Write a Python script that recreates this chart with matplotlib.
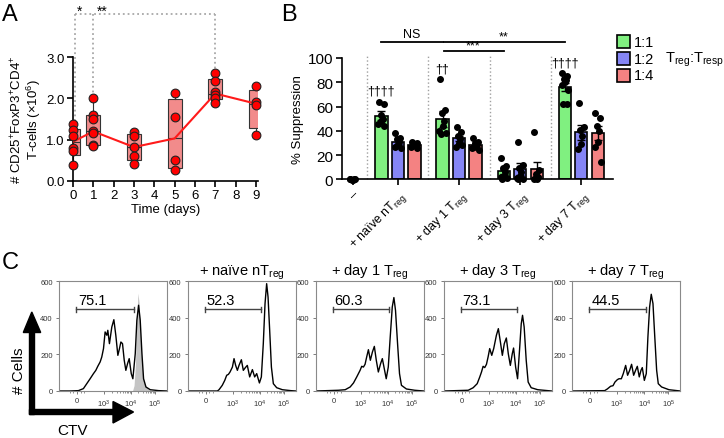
import numpy as np
import matplotlib
matplotlib.use('Agg')
import matplotlib.pyplot as plt
from matplotlib.patches import Rectangle, Polygon

plt.rcParams['font.family'] = ['Liberation Sans', 'DejaVu Sans']
plt.rcParams['mathtext.default'] = 'regular'

# ---------------- data: panel A (Treg numbers over time, x10^6)
days = [0, 1, 3, 5, 7, 9]
cells_d0 = [1.38, 1.23, 1.10, 0.80, 0.72, 0.38]
cells_d1 = [2.02, 1.60, 1.50, 1.20, 1.15, 0.88, 0.84]
cells_d3 = [1.18, 1.08, 0.82, 0.60, 0.41]
cells_d5 = [2.13, 1.56, 0.50, 0.26]
cells_d7 = [2.62, 2.42, 2.15, 2.08, 2.02, 1.88]
cells_d9 = [2.29, 1.90, 1.84, 1.11]

# ---------------- data: panel B (% suppression)
groups_b = ['–', '+ naïve nT$_{reg}$', '+ day 1 T$_{reg}$', '+ day 3 T$_{reg}$', '+ day 7 T$_{reg}$']
ratios = ['1:1', '1:2', '1:4']
mean_11 = [52.5, 49.5, 6.5, 76.0]
mean_12 = [31.0, 33.8, 8.3, 38.6]
mean_14 = [28.3, 28.6, 8.4, 37.8]
sem_11 = [3.8, 6.5, 2.3, 3.0]
sem_12 = [2.0, 2.3, 4.8, 6.0]
sem_14 = [0.9, 1.2, 6.0, 5.8]
pts_none = [0.4, 0.0, -0.3, 0.2, -0.2, 0.1]
pts_11 = [[64, 62, 53, 50, 48, 46, 44],
          [82.5, 57, 54.5, 48, 44, 40, 38, 37],
          [17.5, 11, 9, 6, 3, 2, 1, 0.5],
          [87.5, 85, 83, 81.5, 80, 78, 74, 62, 62]]
pts_12 = [[38, 34, 33, 31, 29, 27, 26],
          [43, 39, 36, 33, 30, 27, 28],
          [31, 12, 9, 6, 3, 1, 0.5, 0],
          [62.5, 43, 41, 36, 29, 25]]
pts_14 = [[31, 30, 29, 28, 28, 27, 26],
          [34, 31, 30, 29, 28, 26, 24, 27],
          [39, 8, 4, 2, 0.5, 0],
          [55, 50.5, 44, 40, 31, 27, 14.5]]
daggers = ['††††', '††', '', '††††']

# ---------------- data: panel C (CTV histograms, x = fraction of display axis)
ctv_ticks = [0.165, 0.415, 0.668, 0.89]
ctv_ticklabels = ['0', '10$^3$', '10$^4$', '10$^5$']
hist_titles = ['', '+ naïve nT$_{reg}$', '+ day 1 T$_{reg}$', '+ day 3 T$_{reg}$', '+ day 7 T$_{reg}$']
gate_pct = ['75.1', '52.3', '60.3', '73.1', '44.5']
gate_lo = [0.155, 0.158, 0.156, 0.156, 0.155]
gate_hi = [0.690, 0.683, 0.678, 0.680, 0.685]

x_resp = [0.0, 0.10, 0.18, 0.226, 0.257, 0.288, 0.319, 0.341, 0.359, 0.381, 0.396, 0.412, 0.427, 0.443,
          0.452, 0.467, 0.489, 0.508, 0.526, 0.545, 0.560, 0.573, 0.588, 0.604, 0.619, 0.635, 0.650,
          0.669, 0.684, 0.706, 0.721, 0.737, 0.752, 0.768, 0.783, 0.805, 0.845, 0.923, 1.0]
y_resp = [0, 0, 2, 13, 40, 67, 95, 113, 135, 159, 186, 232, 323, 305, 332, 259, 350, 390, 305, 195,
          232, 268, 259, 168, 113, 150, 177, 95, 67, 204, 387, 469, 387, 204, 67, 22, 7, 2, 0]
x_undiv = [0.68, 0.695, 0.708, 0.72, 0.731, 0.742, 0.752, 0.765, 0.78, 0.80, 0.83, 0.86]
y_undiv = [0, 30, 150, 400, 535, 480, 330, 170, 70, 25, 8, 0]

x_naive = [0.0, 0.275, 0.29, 0.32, 0.343, 0.361, 0.377, 0.392, 0.414, 0.429, 0.444, 0.46, 0.475, 0.497,
           0.515, 0.534, 0.552, 0.574, 0.599, 0.62, 0.639, 0.664, 0.682, 0.70, 0.716, 0.731, 0.744,
           0.759, 0.775, 0.793, 0.824, 0.877, 0.954, 1.0]
y_naive = [0, 0, 7, 31, 58, 86, 91, 104, 131, 177, 140, 113, 140, 171, 113, 128, 140, 77, 117, 77,
           95, 44, 77, 259, 478, 587, 514, 332, 131, 40, 18, 7, 2, 0]

x_day1 = [0.0, 0.21, 0.273, 0.319, 0.35, 0.38, 0.411, 0.426, 0.442, 0.457, 0.472, 0.488, 0.506, 0.525,
          0.543, 0.561, 0.58, 0.601, 0.617, 0.635, 0.653, 0.672, 0.69, 0.709, 0.724, 0.739, 0.758,
          0.776, 0.794, 0.84, 0.917, 1.0]
y_day1 = [0, 4, 7, 22, 44, 77, 113, 135, 131, 146, 186, 226, 168, 213, 244, 168, 104, 150, 177, 122,
          67, 131, 295, 460, 511, 441, 259, 95, 31, 11, 4, 0]

x_day3 = [0.0, 0.227, 0.273, 0.31, 0.334, 0.35, 0.365, 0.38, 0.396, 0.411, 0.426, 0.445, 0.463, 0.488,
          0.506, 0.525, 0.543, 0.561, 0.58, 0.598, 0.617, 0.635, 0.647, 0.666, 0.684, 0.702, 0.718,
          0.73, 0.745, 0.764, 0.782, 0.81, 0.871, 1.0]
y_day3 = [0, 4, 18, 40, 77, 104, 135, 128, 146, 186, 232, 195, 232, 305, 341, 268, 195, 259, 290, 204,
          140, 204, 235, 131, 67, 223, 368, 414, 350, 168, 49, 18, 7, 0]

x_day7 = [0.0, 0.30, 0.324, 0.355, 0.377, 0.395, 0.417, 0.432, 0.454, 0.472, 0.494, 0.512, 0.531,
          0.549, 0.568, 0.586, 0.602, 0.62, 0.636, 0.648, 0.667, 0.685, 0.70, 0.716, 0.731, 0.747,
          0.762, 0.781, 0.796, 0.827, 0.895, 1.0]
y_day7 = [0, 2, 11, 26, 29, 49, 62, 67, 67, 95, 140, 86, 113, 146, 86, 113, 135, 77, 113, 128, 58, 95,
          295, 460, 529, 478, 314, 113, 40, 22, 7, 0]

W, H = 724, 439
fig = plt.figure(figsize=(W / 100, H / 100), dpi=100)


def box(l, t, r, b):
    return [l / W, 1 - b / H, (r - l) / W, (b - t) / H]


# ================= Panel A
axA = fig.add_axes(box(73, 58, 258, 182))
allcells = [cells_d0, cells_d1, cells_d3, cells_d5, cells_d7, cells_d9]
stats, meds = [], []
for v in allcells:
    v = np.asarray(v)
    q1, med, q3 = np.percentile(v, [25, 50, 75], method='weibull')
    meds.append(med)
    stats.append(dict(med=med, q1=q1, q3=q3, whislo=v.min(), whishi=v.max(), fliers=[]))
axA.bxp(stats, positions=days, widths=0.7, patch_artist=True, showfliers=False, showcaps=False,
        manage_ticks=False,
        boxprops=dict(facecolor='#f28b8b', edgecolor='#333333', linewidth=0.8),
        medianprops=dict(color='#333333', linewidth=0.8),
        whiskerprops=dict(color='#333333', linewidth=0.8))
axA.plot(days, meds, color='#ff1a1a', lw=1.5, zorder=3)
for d, v in zip(days, allcells):
    axA.plot(np.full(len(v), d), v, 'o', ms=6.3, mfc='#ff0000', mec='#222222', mew=0.8,
             clip_on=False, zorder=4)

top = 4.04
dot = dict(ls=':', color='#a8a8a8', lw=1.3, clip_on=False, zorder=1)
axA.plot([0.12, 0.12], [top, max(cells_d0) + 0.08], **dot)
axA.plot([1, 1], [top, max(cells_d1) + 0.08], **dot)
axA.plot([7, 7], [top, max(cells_d7) + 0.08], **dot)
axA.plot([0.12, 7], [top, top], **dot)
axA.text(0.3, top - 0.1, '*', ha='center', va='bottom', fontsize=10)
axA.text(1.45, top - 0.1, '**', ha='center', va='bottom', fontsize=10)

axA.set_xlim(0, 9.1)
axA.set_ylim(0, 3.0)
axA.set_xticks(range(10))
axA.set_yticks([0, 1, 2, 3])
axA.set_yticklabels(['0.0', '1.0', '2.0', '3.0'])
axA.spines[['top', 'right']].set_visible(False)
axA.spines[['left', 'bottom']].set_linewidth(1.2)
axA.tick_params(direction='out', length=4, width=1.2, labelsize=9.5, pad=2)
axA.set_xlabel('Time (days)', fontsize=9.5, labelpad=1)
axA.set_ylabel('# CD25$^{+}$FoxP3$^{+}$CD4$^{+}$\nT-cells (×10$^{6}$)', fontsize=9.5, labelpad=2,
               linespacing=1.1)

# ================= Panel B
axB = fig.add_axes(box(341.7, 59, 613, 180.3))
cols = ['#80f080', '#8585f5', '#f48282']
xc = np.arange(1, 5)
off = 0.27
bw = 0.2
spread = [-0.04, 0.04, -0.015, 0.02, 0.0, -0.05, 0.05, -0.03, 0.03]

for sep in [0.5, 1.5, 2.5, 3.5]:
    axB.plot([sep, sep], [0, 102], ls=':', color='#a0a0a0', lw=1.0, clip_on=False, zorder=1)

axB.bar(0.26, 0.4, width=bw, color='white', edgecolor='black', lw=1.2, zorder=2)
axB.plot(0.26 + np.array(spread[:len(pts_none)]), pts_none, 'o', ms=4, color='black',
         clip_on=False, zorder=4)

for k, (m, s, pts, c) in enumerate(zip([mean_11, mean_12, mean_14], [sem_11, sem_12, sem_14],
                                       [pts_11, pts_12, pts_14], cols)):
    xs = xc + (k - 1) * off
    axB.bar(xs, m, width=bw, color=c, edgecolor='black', lw=1.2, zorder=2, label=ratios[k])
    axB.errorbar(xs, m, yerr=s, fmt='none', ecolor='black', elinewidth=1.0, capsize=3,
                 capthick=1.0, zorder=3)
    for x0, p in zip(xs, pts):
        axB.plot(x0 + np.array(np.resize(spread, len(p))), p, 'o', ms=4, color='black',
                 clip_on=False, zorder=4)

for x0, dg, p in zip(xc - off, daggers, pts_11):
    if dg:
        axB.text(x0, max(p) + 4, dg, ha='center', va='bottom', fontsize=9)

g1, g2, g3, g4 = xc - off
sig = dict(color='black', lw=1.3, clip_on=False)
axB.plot([g1, g2], [113.4, 113.4], **sig)
axB.plot([g2 + 0.02, g4], [113.4, 113.4], **sig)
axB.plot([g2 + 0.02, g3], [105.8, 105.8], **sig)
axB.text((g1 + g2) / 2, 114.5, 'NS', ha='center', va='bottom', fontsize=9)
axB.text((g2 + g4) / 2, 113.0, '**', ha='center', va='bottom', fontsize=9)
axB.text((g2 + g3) / 2, 105.4, '***', ha='center', va='bottom', fontsize=9)

axB.set_xlim(0.08, 4.52)
axB.set_ylim(0, 100)
axB.set_yticks([0, 20, 40, 60, 80, 100])
axB.set_xticks([0.26, 1, 2, 3, 4])
axB.set_xticklabels(groups_b, rotation=45, ha='right', rotation_mode='anchor', fontsize=9)
axB.spines[['top', 'right']].set_visible(False)
axB.spines[['left', 'bottom']].set_linewidth(1.2)
axB.tick_params(direction='out', length=4, width=1.2, pad=2)
axB.tick_params(axis='y', labelsize=11)
axB.set_ylabel('% Suppression', fontsize=9.5, labelpad=3)

# legend
sw, sh = 13 / 271, 13 / 121.3
for k, (lab, c) in enumerate(zip(ratios, cols)):
    yc = [1.132, 0.992, 0.859][k]
    axB.add_patch(Rectangle((1.016, yc - sh / 2), sw, sh, transform=axB.transAxes,
                            facecolor=c, edgecolor='black', lw=1.2, clip_on=False))
    axB.text(1.077, yc, lab, transform=axB.transAxes, ha='left', va='center', fontsize=10.5)
axB.text(1.193, 0.992, 'T$_{reg}$:T$_{resp}$', transform=axB.transAxes, ha='left', va='center',
         fontsize=10.5)

# ================= Panel C
hx = [x_resp, x_naive, x_day1, x_day3, x_day7]
hy = [y_resp, y_naive, y_day1, y_day3, y_day7]
lefts = [59, 187.7, 315.7, 443.7, 572.3]
minor = []
for a, b in zip(ctv_ticks[1:-1], ctv_ticks[2:]):
    minor += list(a + (b - a) * np.log10(np.arange(2, 10)))
minor += [0.10, 0.13, 0.20, 0.23]
for i in range(5):
    ax = fig.add_axes(box(lefts[i], 282.3, lefts[i] + 108, 392))
    if i == 0:
        ax.fill_between(x_undiv, y_undiv, color='#c4c4c4', lw=0, zorder=1)
    ax.plot(hx[i], hy[i], color='black', lw=1.0, zorder=2)
    ax.plot([gate_lo[i], gate_hi[i]], [447, 447], color='#444444', lw=1.0)
    for gx in [gate_lo[i], gate_hi[i]]:
        ax.plot([gx, gx], [432, 462], color='#444444', lw=1.0)
    ax.text(gate_lo[i] + 0.02, 462, gate_pct[i], ha='left', va='bottom', fontsize=10.5)
    if hist_titles[i]:
        ax.set_title(hist_titles[i], fontsize=10.5, pad=4)
    ax.set_xlim(0, 1)
    ax.set_ylim(0, 600)
    ax.set_xticks(ctv_ticks)
    ax.set_xticklabels(ctv_ticklabels)
    ax.set_xticks(minor, minor=True)
    ax.set_yticks([0, 200, 400, 600])
    for sp in ax.spines.values():
        sp.set_color('#8a8a8a')
        sp.set_linewidth(0.8)
    ax.tick_params(labelsize=5.5, length=2.5, width=0.6, color='#666666', pad=2,
                   labelcolor='#333333')
    ax.tick_params(which='minor', length=1.5, width=0.5, color='#666666')

# ================= overlay: panel letters and axis arrows
ov = fig.add_axes([0, 0, 1, 1], zorder=-1)
ov.set_xlim(0, W)
ov.set_ylim(H, 0)
ov.axis('off')
ov.add_patch(Polygon([(29.4, 415), (34.2, 415), (34.2, 333), (29.4, 333)], color='black'))
ov.add_patch(Polygon([(23.3, 333.5), (40.7, 333.5), (31.8, 313)], color='black'))
ov.add_patch(Polygon([(29.4, 410), (113.5, 410), (113.5, 415), (29.4, 415)], color='black'))
ov.add_patch(Polygon([(113, 402.5), (113, 424), (133.5, 413)], color='black'))
ov.text(19, 371, '# Cells', rotation=90, ha='center', va='center', fontsize=11)
ov.text(72, 431, 'CTV', ha='center', va='center', fontsize=11)
ov.text(2, 4, 'A', ha='left', va='top', fontsize=17)
ov.text(281, 4, 'B', ha='left', va='top', fontsize=17)
ov.text(2, 252, 'C', ha='left', va='top', fontsize=17)

fig.savefig('out.png', dpi=100)
